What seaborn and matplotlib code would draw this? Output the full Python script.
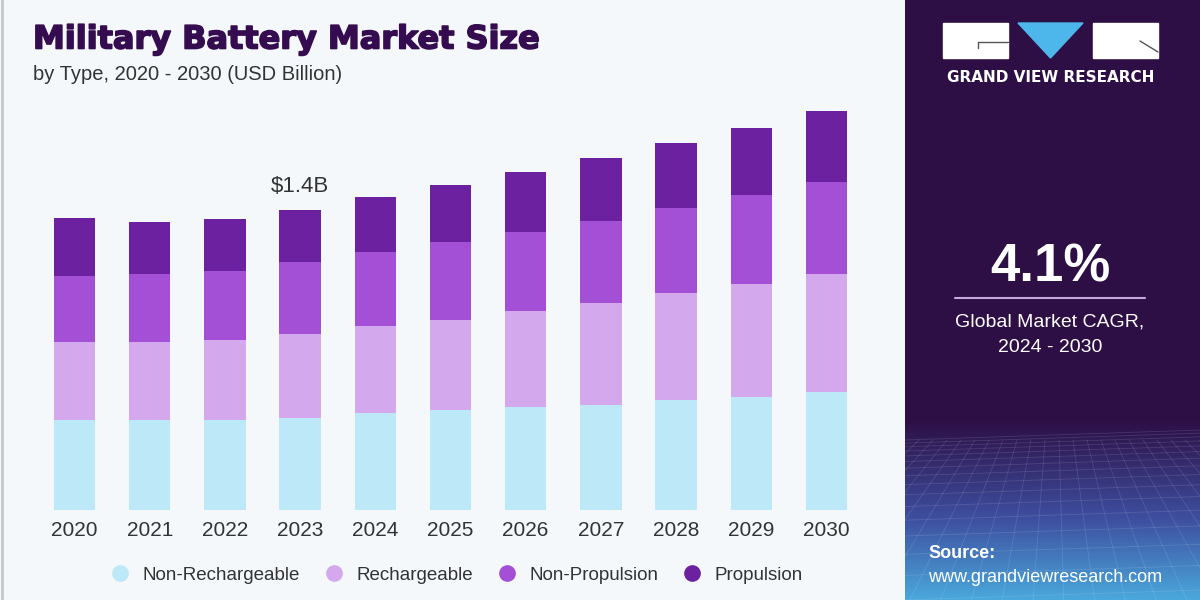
import numpy as np
import pandas as pd
import matplotlib
matplotlib.use("Agg")
import matplotlib.pyplot as plt
import matplotlib.patheffects as pe
import seaborn as sns
from matplotlib.lines import Line2D
from matplotlib.patches import Rectangle, Polygon

years = ["2020", "2021", "2022", "2023", "2024", "2025", "2026", "2027", "2028", "2029", "2030"]
non_rechargeable = [0.42, 0.42, 0.42, 0.43, 0.45, 0.465, 0.48, 0.49, 0.51, 0.525, 0.55]
rechargeable = [0.36, 0.36, 0.37, 0.39, 0.405, 0.42, 0.445, 0.475, 0.50, 0.525, 0.55]
non_propulsion = [0.31, 0.32, 0.32, 0.335, 0.345, 0.36, 0.37, 0.38, 0.395, 0.415, 0.425]
propulsion = [0.27, 0.24, 0.245, 0.24, 0.255, 0.265, 0.275, 0.29, 0.30, 0.31, 0.33]

segments = ["Non-Rechargeable", "Rechargeable", "Non-Propulsion", "Propulsion"]
colors = ["#bde8f8", "#d3a8ec", "#a34fd6", "#6c21a0"]

BG = "#f4f8fb"
PANEL = "#2d0f45"

sns.set_theme(style="white")
plt.rcParams["font.family"] = ["Liberation Sans", "DejaVu Sans"]

fig = plt.figure(figsize=(12, 6), dpi=100)
fig.patch.set_facecolor(BG)

# main chart
ax = fig.add_axes([37 / 1200, 90 / 600, 827 / 1200, 410 / 600])
ax.set_facecolor(BG)

df = pd.DataFrame({"year": years, segments[0]: non_rechargeable, segments[1]: rechargeable,
                   segments[2]: non_propulsion, segments[3]: propulsion})
cum = df[segments].cumsum(axis=1)

# draw from the tallest cumulative layer down so lower layers cover the upper ones
for seg, col in reversed(list(zip(segments, colors))):
    sns.barplot(x=df["year"], y=cum[seg], color=col, saturation=1, width=0.55,
                order=years, ax=ax, linewidth=0)

ax.set_xlim(-0.5, 10.5)
ax.set_ylim(0, 410 / 215)
ax.set_xlabel("")
ax.set_ylabel("")
ax.set_yticks([])
ax.tick_params(axis="x", length=0, pad=8, labelsize=15, labelcolor="#333333")
sns.despine(ax=ax, left=True, bottom=True)

total_2023 = cum[segments[-1]].iloc[3]
ax.text(3, total_2023 + 0.06, f"${total_2023:.1f}B", ha="center", va="bottom",
        fontsize=16, color="#333333")

# titles
fig.text(33 / 1200, 1 - 40 / 600, "Military Battery Market Size", fontsize=23,
         fontweight="heavy", color="#350c50", va="center", family=["DejaVu Sans"],
         path_effects=[pe.withStroke(linewidth=1.2, foreground="#350c50")])
fig.text(33 / 1200, 1 - 75 / 600, "by Type, 2020 - 2030 (USD Billion)", fontsize=14.5,
         color="#333333", va="center")

# thin border on the left edge
fig.add_artist(Line2D([0.002, 0.002], [0, 1], color="#c8c8c8", lw=2))

# legend
handles = [Line2D([0], [0], marker="o", linestyle="", markersize=11, markerfacecolor=c,
                  markeredgecolor=c) for c in colors]
fig.legend(handles, segments, loc="center", bbox_to_anchor=(452 / 1200, 1 - 575 / 600),
           ncol=4, frameon=False, fontsize=13.5, handletextpad=0.2, columnspacing=0.8,
           labelcolor="#333333")

# right panel
pan = fig.add_axes([905 / 1200, 0, 295 / 1200, 1])
pan.set_xlim(0, 295)
pan.set_ylim(600, 0)
pan.axis("off")
pan.add_patch(Rectangle((0, 0), 295, 600, color=PANEL, zorder=0))

# gradient footer
grad = np.linspace(0, 1, 200)[:, None]
c0 = np.array([0x2d, 0x0f, 0x45]) / 255
c1 = np.array([0x3e, 0x4f, 0xa0]) / 255
c2 = np.array([0x4a, 0xa8, 0xdc]) / 255
rgb = np.where(grad[..., None] < 0.55,
               c0 + (c1 - c0) * (grad[..., None] / 0.55),
               c1 + (c2 - c1) * ((grad[..., None] - 0.55) / 0.45))
rgb = np.repeat(rgb, 2, axis=1)
pan.imshow(rgb, extent=(0, 295, 600, 420), aspect="auto", zorder=1)

# faint mesh texture
for k in range(-12, 30):
    x0 = k * 14
    pan.plot([x0, 150 + (x0 - 150) * 2.2], [440, 600], color="white", alpha=0.12, lw=0.6, zorder=2)
for yy in np.geomspace(20, 180, 16):
    pan.plot([0, 295], [420 + yy, 420 + yy - 10], color="white", alpha=0.12, lw=0.6, zorder=2)

# logo
pan.add_patch(Rectangle((38, 23), 65, 35, color="white", zorder=3))
pan.add_patch(Rectangle((188, 23), 65, 35, color="white", zorder=3))
pan.add_patch(Polygon([[113, 23], [178, 23], [145.5, 58]], color="#4db6ea", zorder=3))
pan.plot([73, 73, 103], [48, 42, 42], color="#555555", lw=1, zorder=4)
pan.plot([235, 253], [41, 52], color="#555555", lw=1, zorder=4)
pan.text(145.5, 78, "GRAND VIEW RESEARCH", ha="center", va="center", color="white",
         fontsize=11, fontweight="bold", zorder=4, family=["DejaVu Sans"])

pan.text(145, 268, "4.1%", ha="center", va="center", color="white", fontsize=38,
         fontweight="bold", zorder=4)
pan.plot([50, 240], [298, 298], color="#c9a8e0", lw=1.5, zorder=4)
pan.text(145, 322, "Global Market CAGR,", ha="center", va="center", color="white",
         fontsize=14, zorder=4)
pan.text(145, 347, "2024 - 2030", ha="center", va="center", color="white",
         fontsize=14, zorder=4)

pan.text(23, 553, "Source:", ha="left", va="center", color="white", fontsize=13,
         fontweight="bold", zorder=4)
pan.text(23, 577, "www.grandviewresearch.com", ha="left", va="center", color="white",
         fontsize=13, zorder=4)

fig.savefig("out.png", dpi=100, facecolor=fig.get_facecolor())
plt.close(fig)
